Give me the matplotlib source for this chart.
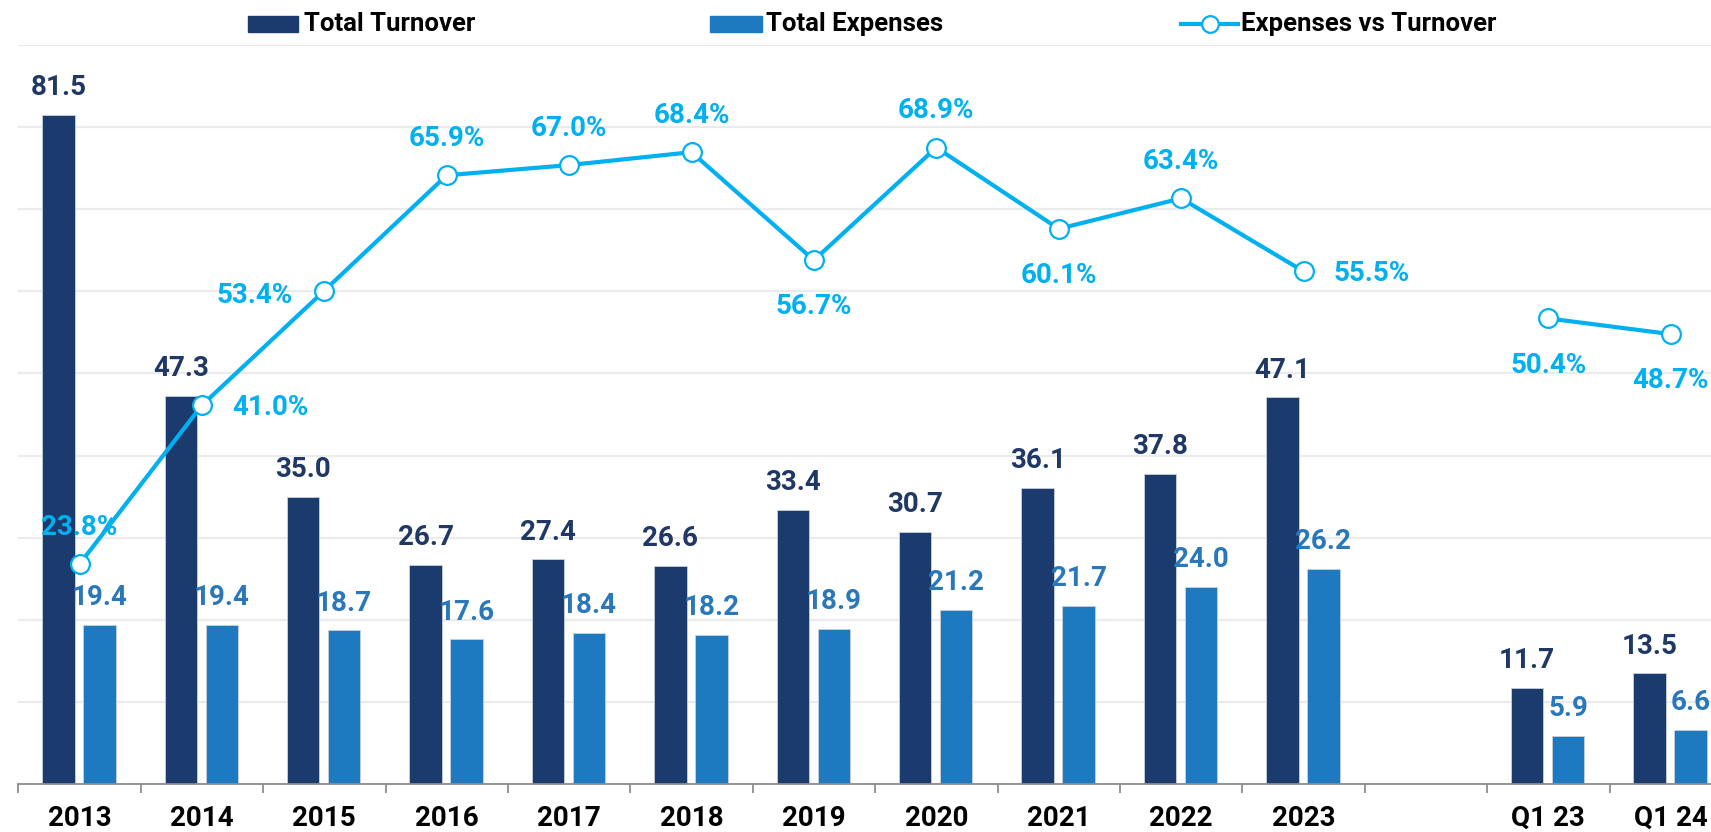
import numpy as np
import matplotlib
matplotlib.use("Agg")
import matplotlib.pyplot as plt
from matplotlib.patches import Rectangle
from matplotlib.lines import Line2D

# ---- data -------------------------------------------------------------
categories = ["2013", "2014", "2015", "2016", "2017", "2018", "2019",
              "2020", "2021", "2022", "2023", "", "Q1 23", "Q1 24"]
total_turnover = [81.5, 47.3, 35.0, 26.7, 27.4, 26.6, 33.4,
                  30.7, 36.1, 37.8, 47.1, np.nan, 11.7, 13.5]
total_expenses = [19.4, 19.4, 18.7, 17.6, 18.4, 18.2, 18.9,
                  21.2, 21.7, 24.0, 26.2, np.nan, 5.9, 6.6]
expenses_vs_turnover = [23.8, 41.0, 53.4, 65.9, 67.0, 68.4, 56.7,
                        68.9, 60.1, 63.4, 55.5, np.nan, 50.4, 48.7]

# where each ratio label sits relative to its marker
ratio_label_side = ["above", "right", "left", "above", "above", "above", "below",
                    "above", "below", "above", "right", None, "below", "below"]

# ---- style ------------------------------------------------------------
NAVY = "#1B3B6F"
BLUE = "#1E7AC0"
CYAN = "#00B0F0"
NAVY_TXT = "#1F3864"
BLUE_TXT = "#2A78BA"
GRID = "#EBEBEB"
AXIS = "#8C8C8C"

plt.rcParams["font.family"] = ["Roboto", "DejaVu Sans"]
plt.rcParams["font.weight"] = "bold"

W, H = 1711, 832
fig = plt.figure(figsize=(W / 100, H / 100), dpi=100)


def fx(px):
    return px / W


def fy(py):
    return 1 - py / H


slot = 122.4
ax = fig.add_axes([fx(18.3), fy(784), slot * len(categories) / W, (784 - 45) / H])
x = np.arange(len(categories))
ax.set_xlim(-0.5, len(categories) - 0.5)
ax.set_ylim(0, 90)

# ratio line lives on a secondary scale
ax2 = ax.twinx()
ax2.set_ylim(0, 80)
ax2.set_axis_off()

# gridlines
ax.set_yticks(np.arange(0, 91, 10))
ax.yaxis.grid(True, color=GRID, lw=1.6)
ax.set_axisbelow(True)
ax.tick_params(axis="y", which="both", left=False, right=False,
               labelleft=False, labelright=False)

for s in ("left", "right", "top"):
    ax.spines[s].set_visible(False)
ax.spines["bottom"].set_color(AXIS)
ax.spines["bottom"].set_linewidth(1.3)

ax.set_xticks(x)
ax.set_xticklabels(categories, fontsize=20, fontweight="bold", color="black")
ax.tick_params(axis="x", which="major", length=0, pad=15)
ax.set_xticks(np.arange(-0.5, len(categories), 1), minor=True)
ax.tick_params(axis="x", which="minor", length=6.5, width=1.3, color=AXIS)

# bars
bw = 0.265
off_t, off_e = -0.172, 0.162
ax.bar(x + off_t, total_turnover, width=bw, color=NAVY,
       edgecolor="#C9D0DA", linewidth=0.6, zorder=2)
ax.bar(x + off_e, total_expenses, width=bw, color=BLUE,
       edgecolor="#C9D0DA", linewidth=0.6, zorder=2)

for xi, v in zip(x, total_turnover):
    if np.isnan(v):
        continue
    ax.annotate(f"{v:.1f}", xy=(xi + off_t, v), xytext=(0, 14), textcoords="offset points",
                ha="center", va="baseline", fontsize=20, fontweight="bold", color=NAVY_TXT)
for xi, v in zip(x, total_expenses):
    if np.isnan(v):
        continue
    ax.annotate(f"{v:.1f}", xy=(xi + off_e, v), xytext=(0, 14), textcoords="offset points",
                ha="center", va="baseline", fontsize=20, fontweight="bold", color=BLUE_TXT)

ratio = np.array(expenses_vs_turnover, dtype=float)
ax2.plot(x, ratio, color=CYAN, lw=3.0, marker="o", markersize=13.5,
         markerfacecolor="white", markeredgecolor=CYAN, markeredgewidth=1.6,
         solid_capstyle="round", zorder=3)

offsets = {"above": (0, 21), "below": (0, -39), "right": (49, -7), "left": (-50, -9)}
for xi, v, side in zip(x, ratio, ratio_label_side):
    if np.isnan(v) or side is None:
        continue
    ax2.annotate(f"{v:.1f}%", xy=(xi, v), xytext=offsets[side], textcoords="offset points",
                 ha="center", va="baseline", fontsize=20, fontweight="bold", color=CYAN,
                 zorder=4)

# legend across the top
leg_y = 24
LEG_FS = 18.5
fig.patches.append(Rectangle((fx(248), fy(leg_y + 8)), fx(50), 16.5 / H,
                             transform=fig.transFigure, color=NAVY))
fig.text(fx(304), fy(leg_y), "Total Turnover", fontsize=LEG_FS, fontweight="bold",
         color="black", va="center", ha="left")
fig.patches.append(Rectangle((fx(710), fy(leg_y + 8)), fx(52), 16.5 / H,
                             transform=fig.transFigure, color=BLUE))
fig.text(fx(766), fy(leg_y), "Total Expenses", fontsize=LEG_FS, fontweight="bold",
         color="black", va="center", ha="left")
fig.lines.append(Line2D([fx(1181), fx(1238)], [fy(leg_y), fy(leg_y)], transform=fig.transFigure,
                        color=CYAN, lw=3.0))
fig.lines.append(Line2D([fx(1209.5)], [fy(leg_y)], transform=fig.transFigure,
                        marker="o", markersize=12, markerfacecolor="white",
                        markeredgecolor=CYAN, markeredgewidth=1.6, lw=0))
fig.text(fx(1241), fy(leg_y), "Expenses vs Turnover", fontsize=LEG_FS, fontweight="bold",
         color="black", va="center", ha="left")

fig.savefig("out.png", dpi=100, facecolor="white")
